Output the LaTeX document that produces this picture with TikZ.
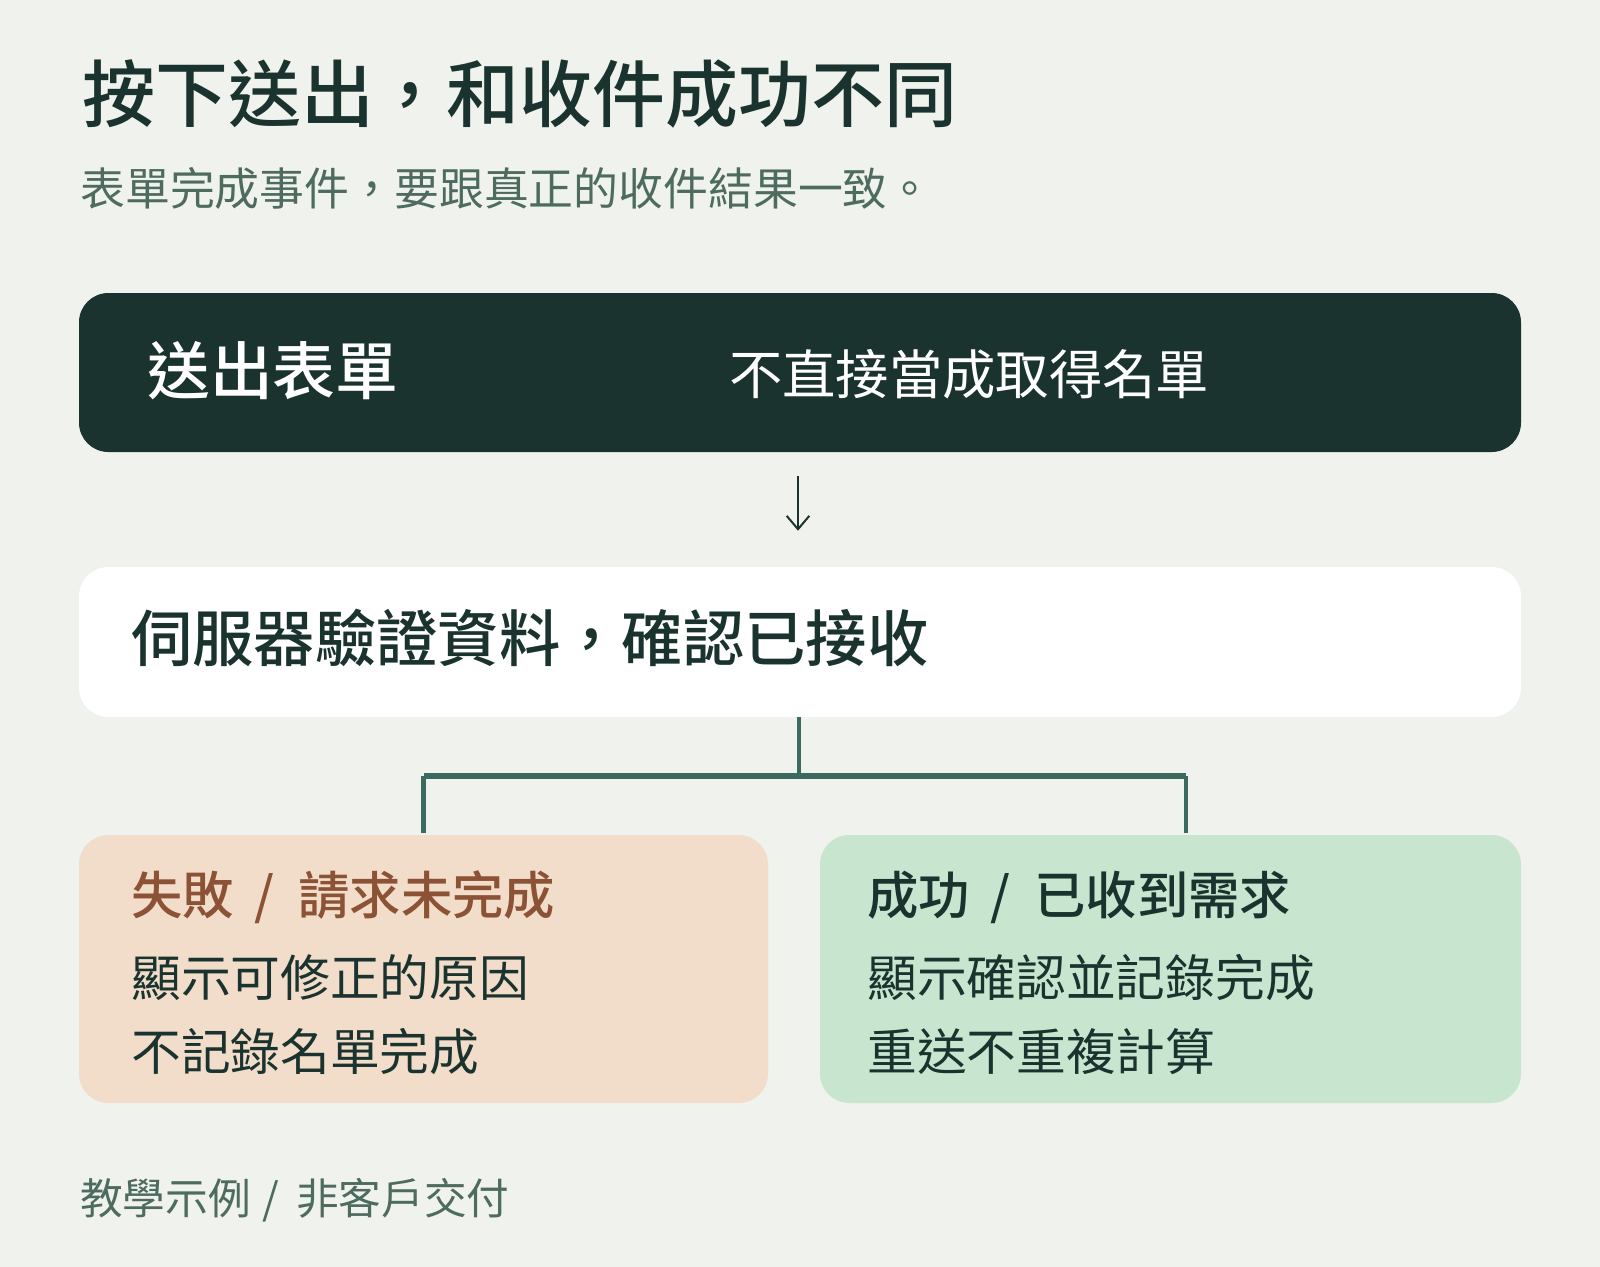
\documentclass[tikz,border=0pt]{standalone}
\usepackage{fontspec}
\setmainfont{Noto Sans CJK TC}[BoldFont={Noto Sans CJK TC Medium}]
\usepackage{tikz}
\usetikzlibrary{arrows.meta,positioning,calc}
\usepackage{xcolor}

\definecolor{bgcol}{HTML}{EFF2ED}
\definecolor{ink}{HTML}{1B332E}
\definecolor{softink}{HTML}{4E6B60}
\definecolor{darkbox}{HTML}{1A332F}
\definecolor{branchcol}{HTML}{3A6B5E}
\definecolor{failbox}{HTML}{F2DDCB}
\definecolor{failink}{HTML}{8B5236}
\definecolor{okbox}{HTML}{C8E6CF}

\newcommand{\fs}[1]{\fontsize{#1}{1.2\dimexpr#1\relax}\selectfont}
\newcommand{\sep}[2]{\hspace{#1}/\hspace{#2}}

\begin{document}
\begin{tikzpicture}[x=0.75pt, y=-0.75pt,
    panel/.style={rounded corners=22pt, inner sep=0pt},
    label/.style={anchor=west, inner sep=0pt},
    branch/.style={draw=branchcol, line width=3.5pt},
    pointer/.style={draw=ink, line width=1.5pt, -{Straight Barb[length=10pt,width=17pt]}}]
                    % background
                    \fill[bgcol] (0,0) rectangle (1600,1267);
                    % heading
                    \node[label, font=\fs{54.7pt}\bfseries, text=ink] (title) at (82,94) {按下送出，和收件成功不同};
                    \node[label, font=\fs{33.65pt}, text=softink] (subtitle) at (80,188) {表單完成事件，要跟真正的收件結果一致。};
                    % boxes
                    \node[panel, fill=darkbox, minimum width=1442*0.75pt, minimum height=159*0.75pt] (send) at (800,372.5) {};
                    \node[panel, fill=white, minimum width=1442*0.75pt, minimum height=150*0.75pt] (server) at (800,642) {};
                    \node[panel, fill=failbox, minimum width=689*0.75pt, minimum height=268*0.75pt] (fail) at (423.5,969) {};
                    \node[panel, fill=okbox, minimum width=701*0.75pt, minimum height=268*0.75pt] (ok) at (1170.5,969) {};
                    % box texts
                    \node[label, font=\fs{47.1pt}\bfseries, text=white] (sendtitle) at (147,371) {送出表單};
                    \node[label, font=\fs{40pt}, text=white] (sendnote) at (729,374) {不直接當成取得名單};
                    \node[label, font=\fs{46pt}\bfseries, text=ink] (servertitle) at (131,638) {伺服器驗證資料，確認已接收};
                    \node[label, font=\fs{38.5pt}\bfseries, text=failink] (failtitle) at (131,897) {失敗\sep{15.5pt}{18pt}請求未完成};
                    \node[label, font=\fs{37.3pt}, text=ink] (failone) at (131,978) {顯示可修正的原因};
                    \node[label, font=\fs{37.3pt}, text=ink] (failtwo) at (131,1052) {不記錄名單完成};
                    \node[label, font=\fs{38.5pt}\bfseries, text=ink] (oktitle) at (867,897) {成功\sep{15.5pt}{18pt}已收到需求};
                    \node[label, font=\fs{37.3pt}, text=ink] (okone) at (867,978) {顯示確認並記錄完成};
                    \node[label, font=\fs{37.3pt}, text=ink] (oktwo) at (867,1052) {重送不重複計算};
                    % footer
                    \node[label, font=\fs{32pt}, text=softink] (footer) at (80,1200) {教學示例\sep{9pt}{12.5pt}非客戶交付};
                    % connectors
                    \draw[pointer, shorten <=18pt, shorten >=27pt] ([xshift=-1.5pt]send.south) -- ([xshift=-1.5pt]server.north);
                    \coordinate (fork) at (799,776);
                    \coordinate (okleg) at (1186,835);
                    \draw[branch] ([xshift=-0.75pt]server.south) -- (fork);
                    \draw[branch, line width=4.5pt] (fork -| fail.north) -- (fork -| okleg);
                    \draw[branch, shorten >=1.5pt] (fork -| fail.north) -- (fail.north);
                    \draw[branch, shorten >=1.5pt] (fork -| okleg) -- (okleg);
                \end{tikzpicture}
\end{document}
